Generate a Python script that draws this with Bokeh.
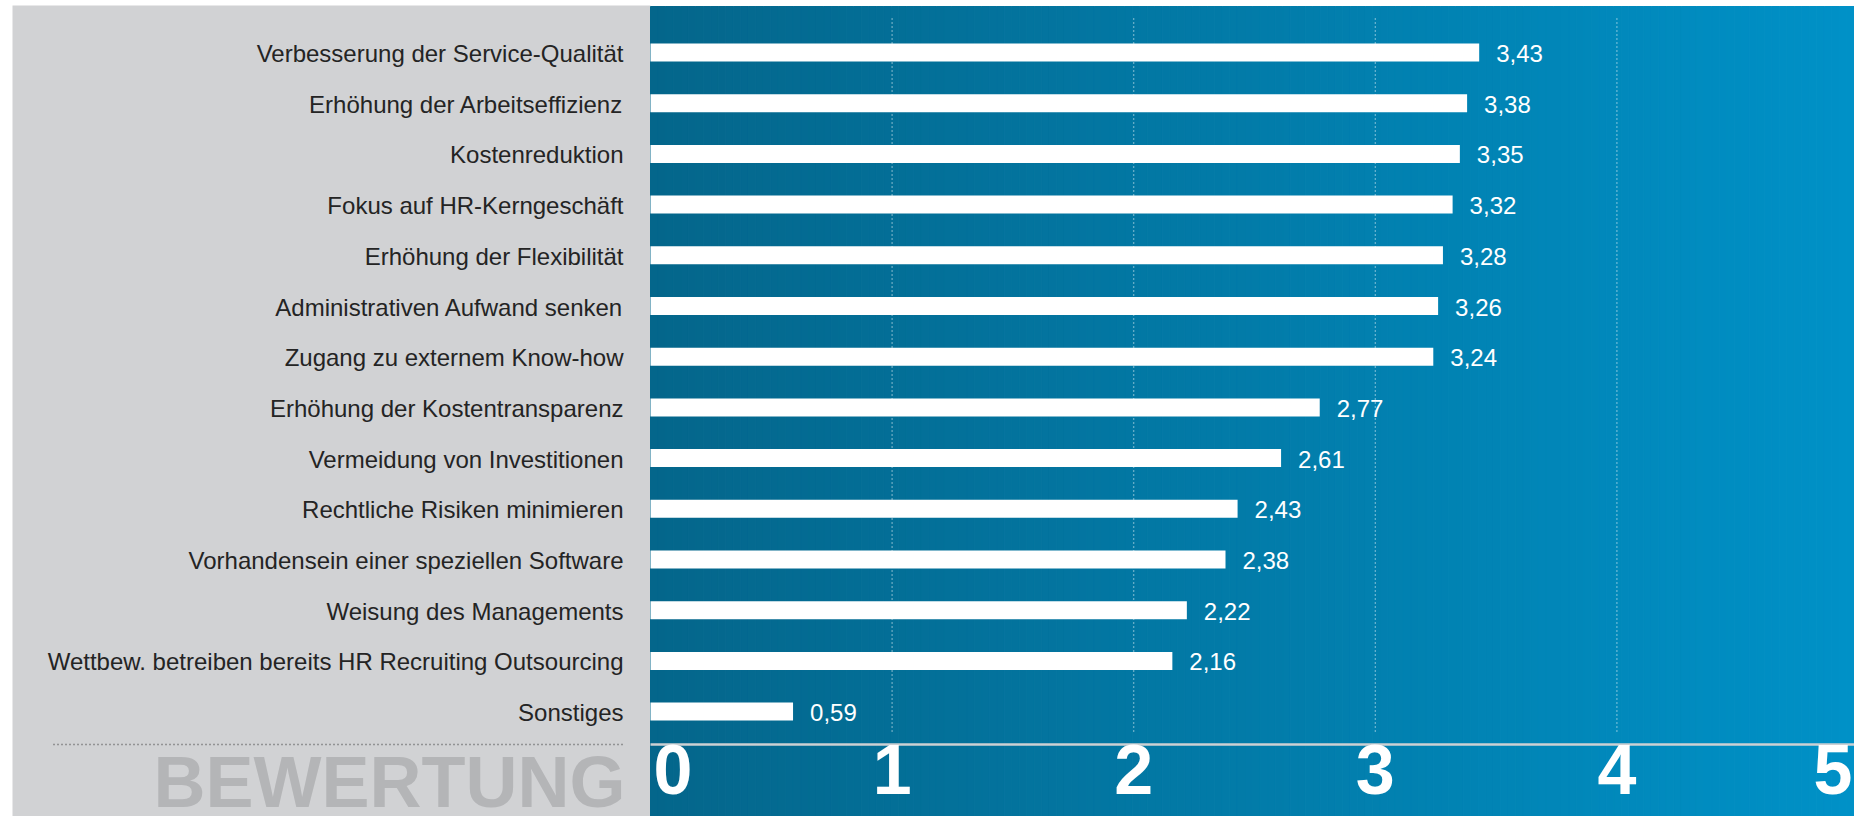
import numpy as np
from bokeh.plotting import figure
from bokeh.models import Range1d, ColumnDataSource
from bokeh.core.properties import value
from bokeh.embed import file_html
from bokeh.resources import INLINE

# ---------------- data ----------------
categories = [
    "Verbesserung der Service-Qualität",
    "Erhöhung der Arbeitseffizienz",
    "Kostenreduktion",
    "Fokus auf HR-Kerngeschäft",
    "Erhöhung der Flexibilität",
    "Administrativen Aufwand senken",
    "Zugang zu externem Know-how",
    "Erhöhung der Kostentransparenz",
    "Vermeidung von Investitionen",
    "Rechtliche Risiken minimieren",
    "Vorhandensein einer speziellen Software",
    "Weisung des Managements",
    "Wettbew. betreiben bereits HR Recruiting Outsourcing",
    "Sonstiges",
]
scores = [3.43, 3.38, 3.35, 3.32, 3.28, 3.26, 3.24, 2.77, 2.61, 2.43, 2.38, 2.22, 2.16, 0.59]
x_ticks = [0, 1, 2, 3, 4, 5]
axis_title = "BEWERTUNG"

# ---------------- layout constants (pixels) ----------------
W, H = 1854, 816
X0_PX = 650           # pixel of value 0
PX_PER_UNIT = 241.6
Y0_PX = 52            # pixel centre of first row
ROW_PX = 50.7


def xpx(px):
    return (px - X0_PX) / PX_PER_UNIT


def ypx(px):
    return (px - Y0_PX) / ROW_PX


FONT = value("Liberation Sans")

p = figure(width=W, height=H, output_backend="svg", toolbar_location=None,
           x_range=Range1d(xpx(0), xpx(W)), y_range=Range1d(ypx(H), ypx(0)),
           x_axis_location=None, y_axis_location=None,
           min_border=0, min_border_left=0, min_border_right=0,
           min_border_top=0, min_border_bottom=0,
           border_fill_color="white", background_fill_color="white",
           outline_line_color=None)
p.grid.visible = False

# grey label panel
p.quad(left=xpx(12), right=0, top=ypx(5), bottom=ypx(H),
       fill_color="#d1d2d4", line_color=None)

# horizontal blue gradient
n_strips = 160
edges = np.linspace(0, xpx(W), n_strips + 1)
t = np.linspace(0, 1, n_strips)
c0 = np.array([4, 102, 139])
c1 = np.array([0, 145, 199])
cols = ["#%02x%02x%02x" % tuple(int(round(v)) for v in (c0 * (1 - s) + c1 * s)) for s in t]
p.quad(left=edges[:-1], right=edges[1:], bottom=ypx(H), top=ypx(6),
       fill_color=cols, line_color=cols, line_width=1)

# dotted grid lines
grid_x = x_ticks[1:-1]
p.segment(x0=grid_x, x1=grid_x, y0=[ypx(18)] * len(grid_x), y1=[ypx(733)] * len(grid_x),
          line_color="white", line_dash="1 3", line_alpha=0.85, line_width=1.2)

# separator line in blue area and dotted rule in grey area
p.segment(x0=[0], x1=[xpx(W)], y0=[ypx(744)], y1=[ypx(744)],
          line_color="#cdd0d3", line_width=2.5)
p.segment(x0=[xpx(53)], x1=[xpx(623)], y0=[ypx(744)], y1=[ypx(744)],
          line_color="#555555", line_dash="1 3", line_width=1.5)

# bars
idx = list(range(len(categories)))
src = ColumnDataSource(dict(
    y=idx, score=scores, cat=categories,
    label=[f"{v:.2f}".replace(".", ",") for v in scores],
))
p.hbar(y="y", left=0, right="score", height=18 / ROW_PX, source=src,
       fill_color="white", line_color=None)
p.text(x="score", y="y", text="label", source=src, x_offset=17, y_offset=1,
       text_baseline="middle", text_align="left", text_color="white",
       text_font=FONT, text_font_size="24px")

# category labels
p.text(x=0, y="y", text="cat", source=src, x_offset=-27, y_offset=1,
       text_baseline="middle", text_align="right", text_color="#242424",
       text_font=FONT, text_font_size="24px")

# big x tick labels
tick_src = ColumnDataSource(dict(
    x=x_ticks, text=[str(v) for v in x_ticks],
    align=["left"] + ["center"] * (len(x_ticks) - 2) + ["right"],
    xo=[3] + [0] * (len(x_ticks) - 2) + [-6],
))
p.text(x="x", y=ypx(744), text="text", source=tick_src, x_offset="xo",
       text_align="align", text_baseline="top", text_color="white",
       text_font=FONT, text_font_style="bold", text_font_size="70px")

# axis title
p.text(x=[0], y=[ypx(741)], text=[axis_title], x_offset=-25,
       text_align="right", text_baseline="top", text_color="#b4b5b7",
       text_font=FONT, text_font_style="bold", text_font_size="72px")

open("out.html", "w").write(file_html(p, INLINE))
